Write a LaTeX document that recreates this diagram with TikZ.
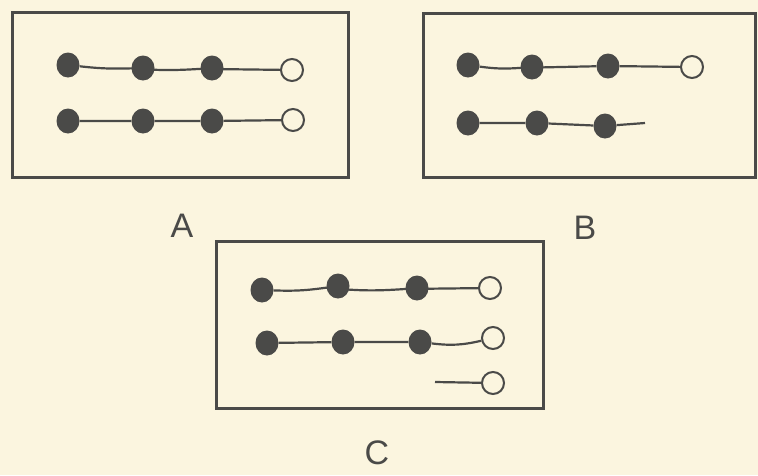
\documentclass[tikz,border=0pt]{standalone}
\usepackage{fontspec}
\setmainfont{Liberation Sans}
\usetikzlibrary{shapes.geometric}
\definecolor{paper}{HTML}{FBF5DF}
\definecolor{ink}{HTML}{4A4A48}
\tikzset{
  panel/.style={draw=ink, line width=3pt},
  bead/.style={ellipse, fill=ink, draw=none, minimum width=23pt, minimum height=25pt, inner sep=0pt},
  ring/.style={circle, draw=ink, fill=paper, line width=2pt, minimum size=22pt, inner sep=0pt},
  thread/.style={draw=ink, line width=2.2pt},
  tag/.style={text=ink, font=\fontsize{34}{34}\selectfont, inner sep=0pt}
}
\begin{document}
\begin{tikzpicture}[x=1pt, y=-1pt]
\fill[paper] (0,0) rectangle (758,475);
\useasboundingbox (0,0) rectangle (758,475);
% Panel A
\draw[panel] (12,12) rectangle (348,177);
\node[bead] (a1) at (68,65) {};
\node[bead] (a2) at (143,68) {};
\node[bead] (a3) at (212,68) {};
\node[ring] (a4) at (292,70) {};
\node[bead] (a5) at (68,121) {};
\node[bead] (a6) at (143,121) {};
\node[bead] (a7) at (212,121) {};
\node[ring] (a8) at (293,120) {};
\draw[thread] (a1) to[bend right=4] (a2) to[bend right=4] (a3) -- (a4);
\draw[thread] (a5) -- (a6) -- (a7) -- (a8);
\node[tag] (la) at (182,226) {A};
% Panel B
\draw[panel] (423,13) rectangle (755,177);
\node[bead] (b1) at (468,65) {};
\node[bead] (b2) at (532,67) {};
\node[bead] (b3) at (608,66) {};
\node[ring] (b4) at (692,67) {};
\node[bead] (b5) at (468,123) {};
\node[bead] (b6) at (537,123) {};
\node[bead] (b7) at (605,126) {};
\coordinate (b8) at (645,123);
\draw[thread] (b1) to[bend right=6] (b2) -- (b3) -- (b4);
\draw[thread] (b5) -- (b6) -- (b7) -- (b8);
\node[tag] (lb) at (585,228) {B};
% Panel C
\draw[panel] (216,241) rectangle (543,408);
\node[bead] (c1) at (262,290) {};
\node[bead] (c2) at (338,286) {};
\node[bead] (c3) at (417,288) {};
\node[ring] (c4) at (490,288) {};
\node[bead] (c5) at (267,343) {};
\node[bead] (c6) at (343,342) {};
\node[bead] (c7) at (420,342) {};
\node[ring] (c8) at (493,338) {};
\coordinate (c9) at (435,382);
\node[ring] (c10) at (493,383) {};
\draw[thread] (c1) to[bend right=5] (c2) to[bend right=5] (c3) -- (c4);
\draw[thread] (c5) -- (c6) -- (c7) to[bend right=10] (c8);
\draw[thread] (c9) -- (c10);
\node[tag] (lc) at (377,453) {C};
\end{tikzpicture}
\end{document}
